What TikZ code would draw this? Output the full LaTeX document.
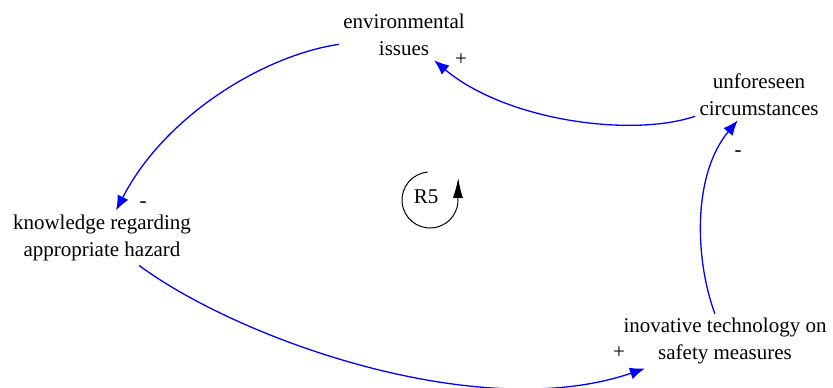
\documentclass[tikz,border=0pt]{standalone}
\usepackage{fontspec}
\setmainfont{Liberation Serif}
\usetikzlibrary{arrows.meta, positioning, calc}

\begin{document}
\begin{tikzpicture}[
    x=0.5pt, y=-0.5pt,
    var/.style={align=center, inner sep=2pt, font=\fontsize{10.5}{13.5}\selectfont},
    sign/.style={inner sep=0pt, font=\fontsize{10.5}{12}\selectfont},
    link/.style={draw=blue, line width=0.65pt, -{Latex[length=7.5pt, width=6pt]}},
    loopline/.style={draw=black, line width=0.5pt},
]
\useasboundingbox (0,0) rectangle (833,387);

% Variables
\node [var] (env) at (404,35) {environmental\\issues};
\node [var] (unfore) at (759,95) {unforeseen\\circumstances};
\node [var] (know) at (102,238) {knowledge regarding\\appropriate hazard};
\node [var] (inov) at (725,341) {inovative technology on\\safety measures};

% Causal links
\draw [link] (env) .. controls (265,55) and (165,115) .. (know);
\draw [link] (know) .. controls (240,340) and (480,425) .. (inov);
\draw [link] (inov) .. controls (695,260) and (692,175) .. (unfore);
\draw [link] (unfore) .. controls (630,138) and (505,120) .. (env);

% Polarities
\node [sign] (pol1) at (461,60) {+};
\node [sign] (pol2) at (143,205) {-};
\node [sign] (pol3) at (619,353) {+};
\node [sign] (pol4) at (738,154) {-};

% Loop marker
\node [var] (r5) at (426,197) {R5};
\coordinate (r5c) at (430,200);
\draw [loopline] ($(r5c)+(95:14pt)$) arc[start angle=95, end angle=355, radius=14pt] coordinate (loopend);
\draw [loopline, -{Latex[length=10pt, width=5pt]}] (loopend) -- ++(0.3,-24.5);

\end{tikzpicture}
\end{document}
